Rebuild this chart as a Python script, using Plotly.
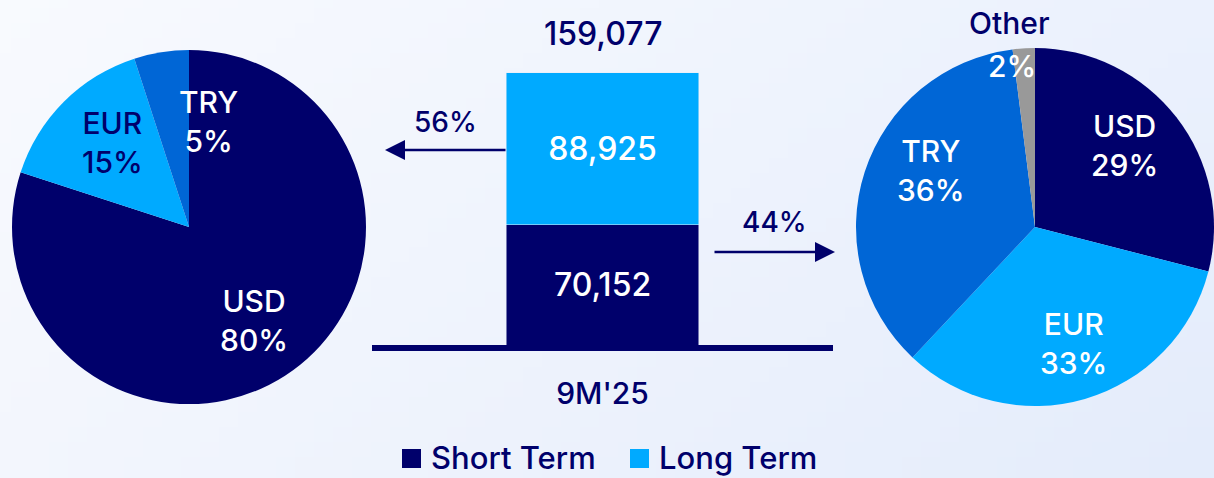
import math, zlib, struct, base64
import plotly.graph_objects as go

# ---------------- data ----------------
bar_category = ["9M'25"]
short_term = [70152]
long_term = [88925]
series_names = ["Short Term", "Long Term"]

lt_currencies = ["USD", "EUR", "TRY"]          # left pie (long term)
lt_shares = [80, 15, 5]
st_currencies = ["USD", "EUR", "TRY", "Other"]  # right pie (short term)
st_shares = [29, 33, 36, 2]

# ---------------- style ----------------
W, H = 1214, 478
NAVY = "#00006B"
LIGHT = "#00AAFF"
MID = "#0066D6"
GREY = "#999999"
FONT = "Inter"
WEIGHT = 500

lt_colors = [NAVY, LIGHT, MID]
st_colors = [NAVY, LIGHT, MID, GREY]
lt_text_colors = ["white", NAVY, "white"]
st_text_colors = ["white", "white", "white", "white"]
# label placement: (angle clockwise from 12 o'clock, fraction of radius)
lt_label_pos = [(145, 0.645), (317.7, 0.642), (10.7, 0.607)]
st_label_pos = [(46, 0.64), (164.2, 0.66), (297.4, 0.67), (350.1, 0.888)]

L_CX, L_CY, L_R = 189, 227, 177
R_CX, R_CY, R_R = 1040, 227, 184      # label frame for the right pie
R_DOM_X = (856, 1214)
R_DOM_Y = (48, 406)


def px(x):
    return x / W


def py(y):
    return 1 - y / H


def fnt(size, color):
    return dict(size=size, color=color, family=FONT, weight=WEIGHT)


def gradient_png(w, h, tl, tr, bl, br):
    raw = bytearray()
    for j in range(h):
        v = j / (h - 1)
        raw.append(0)
        for i in range(w):
            u = i / (w - 1)
            for c in range(3):
                val = tl[c] * (1 - u) * (1 - v) + tr[c] * u * (1 - v) + bl[c] * (1 - u) * v + br[c] * u * v
                raw.append(int(round(val)))

    def chunk(t, d):
        return struct.pack(">I", len(d)) + t + d + struct.pack(">I", zlib.crc32(t + d) & 0xffffffff)

    png = (b"\x89PNG\r\n\x1a\n" + chunk(b"IHDR", struct.pack(">IIBBBBB", w, h, 8, 2, 0, 0, 0))
           + chunk(b"IDAT", zlib.compress(bytes(raw))) + chunk(b"IEND", b""))
    return "data:image/png;base64," + base64.b64encode(png).decode()


fig = go.Figure()

# stacked bar
for name, vals, col in [(series_names[0], short_term, NAVY), (series_names[1], long_term, LIGHT)]:
    fig.add_trace(go.Bar(
        x=[0], y=vals, name=name, marker_color=col, width=1.0, showlegend=False,
        text=[f"{v:,}" for v in vals], textposition="inside", insidetextanchor="middle",
        textfont=fnt(32, "white"), textangle=0, constraintext="none",
        hoverinfo="name+y",
    ))

# pies
fig.add_trace(go.Pie(
    labels=lt_currencies, values=lt_shares, sort=False, direction="clockwise", rotation=0,
    marker=dict(colors=lt_colors, line=dict(width=0)), textinfo="none", showlegend=False,
    domain=dict(x=[px(L_CX - L_R), px(L_CX + L_R)], y=[py(L_CY + L_R), py(L_CY - L_R)]),
    name="Long Term",
))
fig.add_trace(go.Pie(
    labels=st_currencies, values=st_shares, sort=False, direction="clockwise", rotation=0,
    marker=dict(colors=st_colors, line=dict(width=0)), textinfo="none", showlegend=False,
    domain=dict(x=[px(R_DOM_X[0]), px(R_DOM_X[1])], y=[py(R_DOM_Y[1]), py(R_DOM_Y[0])]),
    name="Short Term",
))

annotations = []
shapes = []


def polar(cx, cy, r, ang, frac):
    a = math.radians(ang)
    return px(cx + math.sin(a) * r * frac), py(cy - math.cos(a) * r * frac)


def label(x, y, text, size, color, xref="paper", yref="paper", **kw):
    d = dict(x=x, y=y, xref=xref, yref=yref, text=text, showarrow=False,
             xanchor="center", yanchor="middle", font=fnt(size, color))
    d.update(kw)
    return d


for lab, val, col, (ang, fr) in zip(lt_currencies, lt_shares, lt_text_colors, lt_label_pos):
    x, y = polar(L_CX, L_CY, L_R, ang, fr)
    annotations.append(label(x, y, f"{lab}<br>{val}%", 30, col))

for lab, val, col, (ang, fr) in zip(st_currencies, st_shares, st_text_colors, st_label_pos):
    x, y = polar(R_CX, R_CY, R_R, ang, fr)
    if lab == "Other":
        annotations.append(label(x, y, f"{val}%", 30, col))
        x2, y2 = polar(R_CX, R_CY, R_R, ang + 1.5, 1.123)
        annotations.append(label(x2, y2, lab, 30, NAVY))
    else:
        annotations.append(label(x, y, f"{lab}<br>{val}%", 30, col))

total = short_term[0] + long_term[0]
annotations.append(label(0, total, f"{total:,}", 32, NAVY, xref="x", yref="y",
                         yanchor="bottom", yshift=18))

lt_pct = round(long_term[0] / total * 100)
st_pct = round(short_term[0] / total * 100)

# arrows (head position in paper coords, tail offset in pixels)
annotations.append(dict(x=px(385), y=py(150), ax=122, ay=0, xref="paper", yref="paper",
                        axref="pixel", ayref="pixel", text="", showarrow=True, arrowhead=2,
                        arrowsize=1.6, arrowwidth=2.5, arrowcolor=NAVY))
annotations.append(dict(x=px(835), y=py(252), ax=-122, ay=0, xref="paper", yref="paper",
                        axref="pixel", ayref="pixel", text="", showarrow=True, arrowhead=2,
                        arrowsize=1.6, arrowwidth=2.5, arrowcolor=NAVY))
annotations.append(label(px(445), py(122), f"{lt_pct}%", 28, NAVY))
annotations.append(label(px(774), py(222), f"{st_pct}%", 28, NAVY))

# legend (swatch + text)
legend_items = [(series_names[0], NAVY, 402), (series_names[1], LIGHT, 630)]
for name, col, x0 in legend_items:
    shapes.append(dict(type="rect", xref="paper", yref="paper", x0=px(x0), x1=px(x0 + 19),
                       y0=py(468), y1=py(449), fillcolor=col, line=dict(width=0)))
    annotations.append(label(px(x0 + 27), 0, name, 31, NAVY, xanchor="left", yanchor="bottom"))

bg = gradient_png(64, 32, (248, 250, 254), (235, 241, 253), (243, 246, 253), (228, 236, 251))

fig.update_layout(
    width=W, height=H,
    margin=dict(l=0, r=0, t=0, b=0),
    paper_bgcolor="#EEF3FC", plot_bgcolor="rgba(0,0,0,0)",
    barmode="stack",
    font=dict(family=FONT, color=NAVY),
    images=[dict(source=bg, xref="paper", yref="paper", x=0, y=1, sizex=1, sizey=1,
                 sizing="stretch", layer="below", xanchor="left", yanchor="top")],
    xaxis=dict(domain=[px(372), px(833)], range=[-1.2, 1.2], tickvals=[0], ticktext=bar_category,
               showgrid=False, zeroline=False, showline=True, linecolor=NAVY, linewidth=6,
               ticks="", tickfont=fnt(30, NAVY), ticklabelstandoff=17,
               fixedrange=True),
    yaxis=dict(domain=[py(345), py(30)], range=[0, 184000], visible=False, fixedrange=True),
    annotations=annotations,
    shapes=shapes,
    showlegend=False,
)

fig.write_html("out.html", config={"displayModeBar": False},
               post_script="document.body.style.margin='0';document.body.style.overflow='hidden';")
